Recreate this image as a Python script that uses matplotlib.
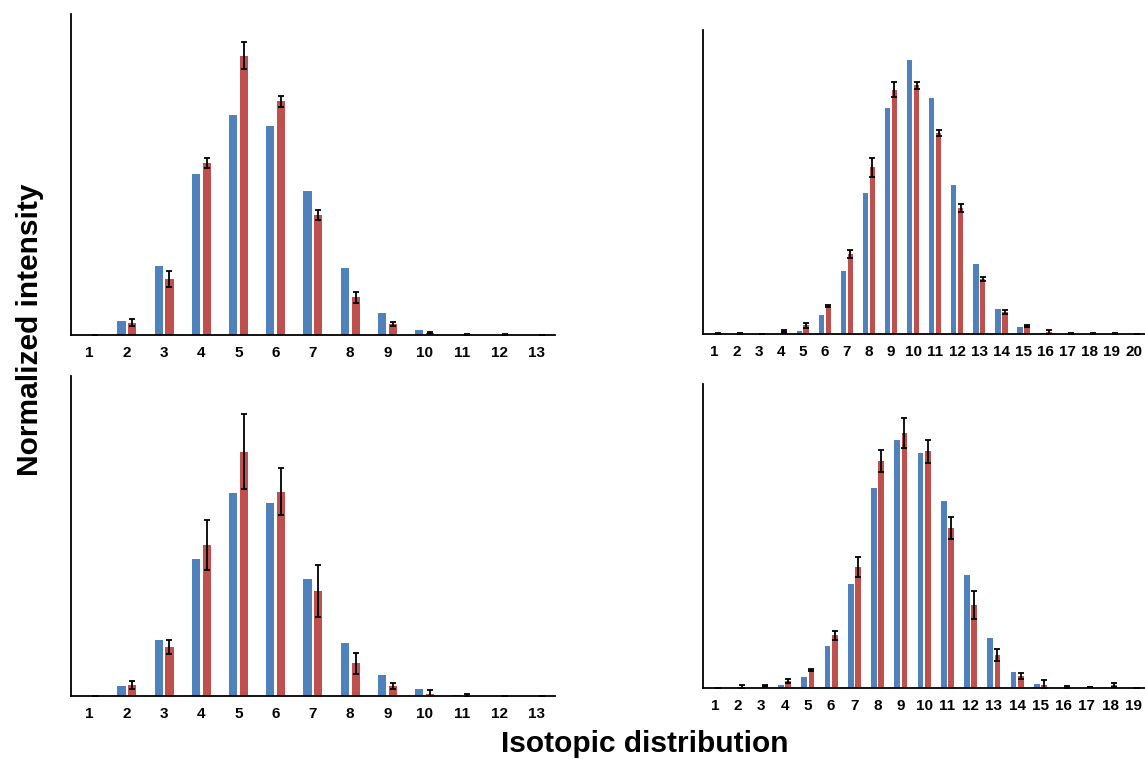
import numpy as np
import matplotlib
matplotlib.use("Agg")
import matplotlib.pyplot as plt

plt.rcParams['font.family'] = ['Liberation Sans', 'DejaVu Sans']

blue_c = '#4F81BD'
red_c = '#C0504D'

# top left
tl_blue = [0, 4.3, 21.6, 50.2, 68.4, 65.2, 44.8, 20.9, 7.0, 1.5, 0.1, 0, 0]
tl_red = [0, 3.9, 17.4, 53.6, 87.0, 72.8, 37.3, 11.7, 3.5, 0.7, 0.2, 0.1, 0]
tl_err = [0, 1.2, 2.4, 1.7, 4.2, 1.8, 1.5, 1.8, 0.6, 0.3, 0.2, 0.1, 0]

# top right
tr_blue = [0, 0, 0, 0.05, 1.1, 6.4, 20.7, 46.4, 74.4, 90.1, 77.6, 49.1, 23.0, 8.1, 2.3, 0.4, 0.05, 0, 0, 0]
tr_red = [0.2, 0.1, 0, 0.9, 2.9, 9.3, 26.4, 54.8, 80.4, 81.8, 66.1, 41.6, 18.1, 7.2, 2.7, 0.7, 0.1, 0.1, 0.2, 0]
tr_err = [0.1, 0.1, 0, 0.3, 0.8, 0.3, 1.3, 3.0, 2.4, 1.2, 1.1, 1.3, 0.7, 0.7, 0.3, 0.7, 0.1, 0.1, 0.3, 0]

# bottom left
bl_blue = [0, 3.1, 17.5, 42.8, 63.4, 60.2, 36.6, 16.6, 6.6, 2.2, 0.4, 0, 0]
bl_red = [0, 3.5, 15.3, 47.1, 76.3, 63.8, 32.8, 10.2, 3.1, 0.7, 0.1, 0, 0]
bl_err = [0, 1.25, 2.2, 7.8, 11.8, 7.4, 8.1, 3.2, 1.0, 1.3, 0.4, 0, 0]

# bottom right
br_blue = [0, 0, 0, 0.9, 3.6, 13.7, 34.2, 65.9, 81.7, 77.2, 61.6, 37.1, 16.4, 5.3, 1.3, 0, 0, 0, 0]
br_red = [0, 0.4, 0.7, 2.2, 5.9, 17.3, 39.8, 74.6, 84.0, 77.9, 52.5, 27.1, 10.7, 3.8, 1.0, 0.2, 0.1, 0.8, 0]
br_err = [0, 0.4, 0.2, 0.6, 0.3, 1.5, 3.4, 3.7, 4.9, 3.8, 3.6, 4.6, 2.0, 0.9, 1.4, 0.3, 0, 0.6, 0]


def draw(ax, blue, red, err, w):
    x = np.arange(1, len(blue) + 1)
    off = w / 2 + 0.035
    ax.bar(x - off, blue, w, color=blue_c, edgecolor='none')
    ax.bar(x + off, red, w, color=red_c, edgecolor='none')
    ax.errorbar(x + off, red, yerr=err, fmt='none', ecolor='black',
                elinewidth=1.3, capsize=2, capthick=1.3)
    ax.set_xlim(0.5, len(blue) + 0.5)
    ax.set_ylim(0, 100)
    ax.set_xticks(x)
    ax.set_xticklabels([str(i) for i in x], fontweight='bold', fontsize=11)
    ax.tick_params(axis='x', length=0, pad=8)
    ax.set_yticks([])
    for s in ['top', 'right']:
        ax.spines[s].set_visible(False)
    ax.spines['left'].set_linewidth(1.3)
    ax.spines['bottom'].set_linewidth(1.3)


fig = plt.figure(figsize=(11.45, 7.59), dpi=100)
ax1 = fig.add_axes([0.062, 0.5586, 0.4227, 0.4229])
ax2 = fig.add_axes([0.6142, 0.5599, 0.3858, 0.4005])
ax3 = fig.add_axes([0.062, 0.0830, 0.4227, 0.422])
ax4 = fig.add_axes([0.6142, 0.0939, 0.3858, 0.4001])

draw(ax1, tl_blue, tl_red, tl_err, 0.22)
draw(ax2, tr_blue, tr_red, tr_err, 0.24)
draw(ax3, bl_blue, bl_red, bl_err, 0.22)
draw(ax4, br_blue, br_red, br_err, 0.24)

fig.text(0.026, 0.565, 'Normalized intensity', rotation=90, ha='center', va='center',
         fontsize=21.5, fontweight='bold')
fig.text(0.563, 0.02, 'Isotopic distribution', ha='center', va='center',
         fontsize=21.5, fontweight='bold')

fig.savefig('out.png', dpi=100)
